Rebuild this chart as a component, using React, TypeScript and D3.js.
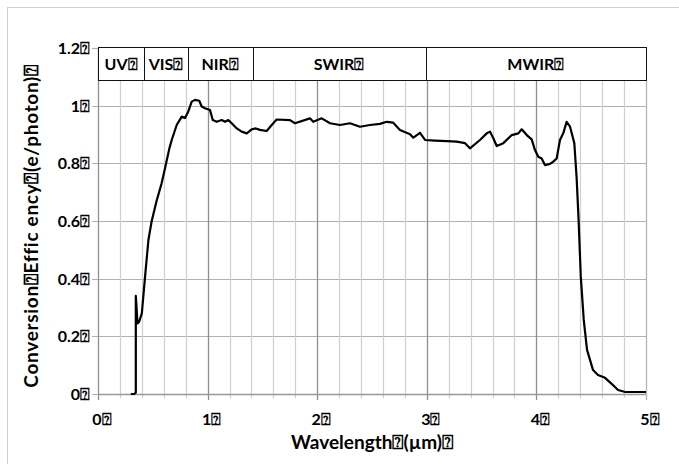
import React from "react";
import * as d3 from "d3";

// ---- data ----
const wavelength: number[] = [
  0.3, 0.33, 0.345, 0.345, 0.352, 0.36, 0.375, 0.4, 0.43, 0.46, 0.49, 0.535, 0.58, 0.61, 0.65,
  0.672, 0.718, 0.764, 0.794, 0.824, 0.855, 0.885, 0.924, 0.946, 0.976, 1.022, 1.047, 1.083,
  1.129, 1.159, 1.189, 1.22, 1.266, 1.311, 1.357, 1.402, 1.44, 1.478, 1.539, 1.585, 1.63,
  1.752, 1.797, 1.934, 1.964, 2.041, 2.117, 2.208, 2.299, 2.39, 2.482, 2.573, 2.634, 2.694,
  2.755, 2.847, 2.877, 2.938, 2.984, 3.075, 3.182, 3.273, 3.349, 3.394, 3.485, 3.547, 3.577,
  3.607, 3.638, 3.698, 3.775, 3.835, 3.866, 3.912, 3.957, 3.987, 4.017, 4.048, 4.078, 4.124,
  4.154, 4.185, 4.215, 4.245, 4.276, 4.307, 4.346, 4.367, 4.385, 4.405, 4.432, 4.462, 4.517,
  4.562, 4.626, 4.687, 4.745, 4.81, 4.9, 5.0,
];
const efficiency: number[] = [
  0, 0, 0.005, 0.34, 0.3, 0.245, 0.25, 0.28, 0.41, 0.534, 0.6, 0.67, 0.73, 0.78, 0.85,
  0.88, 0.933, 0.962, 0.957, 0.98, 1.014, 1.02, 1.017, 0.997, 0.991, 0.985, 0.95, 0.944,
  0.95, 0.944, 0.95, 0.939, 0.921, 0.91, 0.904, 0.918, 0.921, 0.916, 0.912, 0.933, 0.952,
  0.95, 0.939, 0.956, 0.944, 0.956, 0.939, 0.933, 0.939, 0.927, 0.933, 0.937, 0.944, 0.941,
  0.916, 0.901, 0.889, 0.906, 0.881, 0.879, 0.877, 0.875, 0.87, 0.852, 0.881, 0.904, 0.91,
  0.887, 0.86, 0.87, 0.898, 0.904, 0.918, 0.898, 0.883, 0.846, 0.823, 0.817, 0.794, 0.798,
  0.806, 0.817, 0.881, 0.904, 0.944, 0.927, 0.87, 0.75, 0.604, 0.407, 0.257, 0.153, 0.083,
  0.066, 0.056, 0.035, 0.014, 0.007, 0.007, 0.007,
];

const bandNames: string[] = ["UV⍰", "VIS⍰", "NIR⍰", "SWIR⍰", "MWIR⍰"];
const bandEdges: number[] = [0, 0.42, 0.82, 1.41, 2.99, 5];

const xTicks: number[] = [0, 1, 2, 3, 4, 5];
const xTickLabels: string[] = ["0⍰", "1⍰", "2⍰", "3⍰", "4⍰", "5⍰"];
const yTicks: number[] = [0, 0.2, 0.4, 0.6, 0.8, 1, 1.2];
const yTickLabels: string[] = ["0⍰", "0.2⍰", "0.4⍰", "0.6⍰", "0.8⍰", "1⍰", "1.2⍰"];

const xTitle = "Wavelength⍰(µm)⍰";
const yTitle = "Conversion⍰Effic ency⍰(e/photon)⍰";

const FONT = "Lato, 'Open Sans', sans-serif";

export default function App() {
  const x = d3.scaleLinear().domain([0, 5]).range([98, 646]);
  const y = d3.scaleLinear().domain([0, 1.2]).range([394, 48]);
  const boxBottom = 80.5;

  const pts: [number, number][] = wavelength.map((w, i) => [w, efficiency[i]]);
  const line = d3
    .line<[number, number]>()
    .x((d) => x(d[0]))
    .y((d) => y(d[1]));

  const minor = d3.range(0, 5.0001, 0.2).map((v) => Math.round(v * 10) / 10).filter((v) => v % 1 !== 0);

  return (
    <svg
      width={679}
      height={464}
      style={{ position: "absolute", left: 0, top: 0 }}
      fontFamily={FONT}
    >
      <rect x={0} y={0} width={679} height={464} fill="#fff" />
      <rect x={7.5} y={7.5} width={700} height={500} fill="none" stroke="#d0d0d0" strokeWidth={1} />

      {/* horizontal gridlines */}
      {yTicks.slice(0, -1).map((t) => (
        <line key={"h" + t} x1={92} x2={646} y1={Math.round(y(t)) + 0.5} y2={Math.round(y(t)) + 0.5} stroke="#b0b0b0" strokeWidth={1.2} />
      ))}
      <line x1={92} x2={98} y1={48.5} y2={48.5} stroke="#b0b0b0" strokeWidth={1.2} />

      {/* minor vertical gridlines */}
      {minor.map((t) => (
        <line key={"m" + t} x1={Math.round(x(t)) + 0.5} x2={Math.round(x(t)) + 0.5} y1={boxBottom} y2={398} stroke="#cfcfcf" strokeWidth={1.2} />
      ))}
      {/* major vertical gridlines */}
      {xTicks.map((t) => (
        <line key={"M" + t} x1={Math.round(x(t)) + 0.5} x2={Math.round(x(t)) + 0.5} y1={t === 0 ? 48 : boxBottom} y2={400} stroke={t === 5 ? "#b5b5b5" : "#8f8f8f"} strokeWidth={1.3} />
      ))}
      {/* bottom axis */}
      <line x1={98} x2={646} y1={394.5} y2={394.5} stroke="#999" strokeWidth={1.3} />

      {/* band boxes */}
      {bandNames.map((b, i) => {
        const x0 = x(bandEdges[i]);
        const x1 = x(bandEdges[i + 1]);
        return (
          <g key={b}>
            <rect x={Math.round(x0) + 0.5} y={47.5} width={Math.round(x1) - Math.round(x0)} height={33} fill="#fff" stroke="#111" strokeWidth={1} />
            <text x={(x0 + x1) / 2} y={70} textAnchor="middle" fontSize={16} fontWeight={700} fill="#000">
              {b}
            </text>
          </g>
        );
      })}

      {/* curve */}
      <path d={line(pts) || ""} fill="none" stroke="#000" strokeWidth={2.2} strokeLinejoin="round" />

      {/* y tick labels */}
      {yTicks.map((t, i) => (
        <text key={"yl" + t} x={90} y={y(t) + 6} textAnchor="end" fontSize={16} fontWeight={700} fill="#000">
          {yTickLabels[i]}
        </text>
      ))}
      {/* x tick labels */}
      {xTicks.map((t, i) => (
        <text key={"xl" + t} x={x(t) + 4} y={425} textAnchor="middle" fontSize={16} fontWeight={700} fill="#000">
          {xTickLabels[i]}
        </text>
      ))}

      <text x={372} y={449} textAnchor="middle" fontSize={19} fontWeight={700} fill="#000">
        {xTitle}
      </text>
      <text transform="translate(38,226) rotate(-90)" textAnchor="middle" fontSize={19} fontWeight={700} letterSpacing={0.7} fill="#000">
        {yTitle}
      </text>
    </svg>
  );
}
